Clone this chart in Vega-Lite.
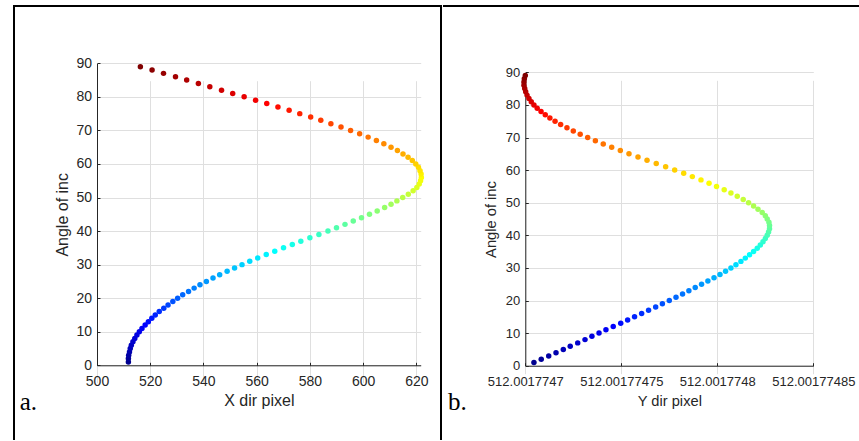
{
  "$schema": "https://vega.github.io/schema/vega-lite/v6.json",
  "padding": {"left": 13, "top": 5, "right": 0, "bottom": 0},
  "spacing": 0,
  "datasets": {
    "d": [
      {"angle": 1, "x": 511.8, "y": 512.0017747045},
      {"angle": 2, "x": 511.8, "y": 512.0017747083},
      {"angle": 3, "x": 511.9, "y": 512.0017747122},
      {"angle": 4, "x": 512.2, "y": 512.001774716},
      {"angle": 5, "x": 512.5, "y": 512.0017747198},
      {"angle": 6, "x": 512.9, "y": 512.0017747234},
      {"angle": 7, "x": 513.5, "y": 512.0017747273},
      {"angle": 8, "x": 514.2, "y": 512.0017747311},
      {"angle": 9, "x": 515.0, "y": 512.0017747347},
      {"angle": 10, "x": 515.9, "y": 512.0017747384},
      {"angle": 11, "x": 516.9, "y": 512.001774742},
      {"angle": 12, "x": 518.1, "y": 512.0017747458},
      {"angle": 13, "x": 519.3, "y": 512.0017747497},
      {"angle": 14, "x": 520.6, "y": 512.0017747533},
      {"angle": 15, "x": 521.9, "y": 512.0017747569},
      {"angle": 16, "x": 523.4, "y": 512.0017747606},
      {"angle": 17, "x": 525.1, "y": 512.0017747642},
      {"angle": 18, "x": 526.7, "y": 512.0017747679},
      {"angle": 19, "x": 528.5, "y": 512.0017747714},
      {"angle": 20, "x": 530.3, "y": 512.001774775},
      {"angle": 21, "x": 532.2, "y": 512.0017747785},
      {"angle": 22, "x": 534.4, "y": 512.0017747819},
      {"angle": 23, "x": 536.5, "y": 512.0017747852},
      {"angle": 24, "x": 538.7, "y": 512.0017747885},
      {"angle": 25, "x": 541.1, "y": 512.0017747918},
      {"angle": 26, "x": 543.6, "y": 512.0017747951},
      {"angle": 27, "x": 546.1, "y": 512.0017747983},
      {"angle": 28, "x": 548.9, "y": 512.0017748014},
      {"angle": 29, "x": 551.7, "y": 512.0017748043},
      {"angle": 30, "x": 554.5, "y": 512.0017748071},
      {"angle": 31, "x": 557.4, "y": 512.0017748097},
      {"angle": 32, "x": 560.4, "y": 512.0017748123},
      {"angle": 33, "x": 563.6, "y": 512.0017748146},
      {"angle": 34, "x": 566.8, "y": 512.0017748168},
      {"angle": 35, "x": 570.1, "y": 512.0017748189},
      {"angle": 36, "x": 573.4, "y": 512.0017748208},
      {"angle": 37, "x": 576.6, "y": 512.0017748224},
      {"angle": 38, "x": 580.0, "y": 512.0017748238},
      {"angle": 39, "x": 583.4, "y": 512.001774825},
      {"angle": 40, "x": 586.8, "y": 512.001774826},
      {"angle": 41, "x": 590.0, "y": 512.0017748267},
      {"angle": 42, "x": 593.2, "y": 512.0017748272},
      {"angle": 43, "x": 596.3, "y": 512.0017748272},
      {"angle": 44, "x": 599.4, "y": 512.0017748269},
      {"angle": 45, "x": 602.4, "y": 512.001774826},
      {"angle": 46, "x": 605.3, "y": 512.001774825},
      {"angle": 47, "x": 608.1, "y": 512.0017748234},
      {"angle": 48, "x": 610.5, "y": 512.0017748212},
      {"angle": 49, "x": 612.7, "y": 512.0017748189},
      {"angle": 50, "x": 614.9, "y": 512.0017748163},
      {"angle": 51, "x": 617.0, "y": 512.0017748135},
      {"angle": 52, "x": 618.8, "y": 512.0017748104},
      {"angle": 53, "x": 620.2, "y": 512.0017748071},
      {"angle": 54, "x": 621.1, "y": 512.0017748036},
      {"angle": 55, "x": 621.6, "y": 512.0017747996},
      {"angle": 56, "x": 621.9, "y": 512.0017747957},
      {"angle": 57, "x": 621.8, "y": 512.0017747915},
      {"angle": 58, "x": 621.4, "y": 512.001774787},
      {"angle": 59, "x": 620.8, "y": 512.0017747825},
      {"angle": 60, "x": 619.8, "y": 512.0017747778},
      {"angle": 61, "x": 618.5, "y": 512.0017747731},
      {"angle": 62, "x": 616.9, "y": 512.0017747682},
      {"angle": 63, "x": 615.0, "y": 512.0017747634},
      {"angle": 64, "x": 612.9, "y": 512.0017747587},
      {"angle": 65, "x": 610.5, "y": 512.001774754},
      {"angle": 66, "x": 607.8, "y": 512.0017747495},
      {"angle": 67, "x": 605.0, "y": 512.001774745},
      {"angle": 68, "x": 601.9, "y": 512.0017747406},
      {"angle": 69, "x": 598.7, "y": 512.0017747365},
      {"angle": 70, "x": 595.3, "y": 512.0017747325},
      {"angle": 71, "x": 591.7, "y": 512.0017747286},
      {"angle": 72, "x": 587.9, "y": 512.001774725},
      {"angle": 73, "x": 584.1, "y": 512.0017747217},
      {"angle": 74, "x": 580.3, "y": 512.0017747184},
      {"angle": 75, "x": 576.2, "y": 512.0017747155},
      {"angle": 76, "x": 572.2, "y": 512.0017747128},
      {"angle": 77, "x": 568.0, "y": 512.0017747104},
      {"angle": 78, "x": 563.8, "y": 512.0017747082},
      {"angle": 79, "x": 559.6, "y": 512.0017747062},
      {"angle": 80, "x": 555.3, "y": 512.0017747045},
      {"angle": 81, "x": 551.0, "y": 512.0017747031},
      {"angle": 82, "x": 546.8, "y": 512.0017747019},
      {"angle": 83, "x": 542.4, "y": 512.0017747009},
      {"angle": 84, "x": 538.1, "y": 512.0017747002},
      {"angle": 85, "x": 533.7, "y": 512.0017746997},
      {"angle": 86, "x": 529.5, "y": 512.0017746993},
      {"angle": 87, "x": 525.0, "y": 512.0017746993},
      {"angle": 88, "x": 520.7, "y": 512.0017746995},
      {"angle": 89, "x": 516.3, "y": 512.0017747}
    ]
  },
  "hconcat": [
    {
      "width": 427,
      "height": 434,
      "view": {"stroke": "#000000", "strokeWidth": 2, "strokeDash": [861, 427, 434]},
      "data": {"name": "d"},
      "mark": {"type": "circle", "size": 30, "opacity": 1, "clip": false},
      "title": {"text": "a.", "orient": "bottom", "anchor": "start", "frame": "group", "font": "Liberation Serif", "fontSize": 25, "fontWeight": "normal", "color": "#000000", "baseline": "alphabetic", "offset": -30, "dx": 5.7},
      "encoding": {
        "x": {
          "field": "x", "type": "quantitative",
          "scale": {"domain": [500, 621.65], "range": [83, 406.7], "nice": false, "zero": false},
          "axis": {"title": "X dir pixel", "values": [500, 520, 540, 560, 580, 600, 620], "offset": -74.7, "labelFontSize": 14, "titleFontSize": 16, "labelPadding": 12.4, "titlePadding": 4}
        },
        "y": {
          "field": "angle", "type": "quantitative",
          "scale": {"domain": [0, 90], "range": [359.3, 57.3], "nice": false, "zero": false},
          "axis": {"title": "Angle of inc", "values": [0, 10, 20, 30, 40, 50, 60, 70, 80, 90], "offset": -83, "labelFontSize": 14, "titleFontSize": 16, "labelPadding": 8.5, "titlePadding": 5}
        },
        "color": {
          "field": "angle", "type": "quantitative", "legend": null,
          "scale": {"domain": [1, 12, 34, 56, 78, 89], "range": ["#00008f", "#0000ff", "#00ffff", "#ffff00", "#ff0000", "#800000"], "interpolate": "rgb"}
        }
      }
    },
    {
      "width": 417,
      "height": 434,
      "view": {"stroke": "#000000", "strokeWidth": 2, "strokeDash": [417, 1300]},
      "data": {"name": "d"},
      "mark": {"type": "circle", "size": 30, "opacity": 1, "clip": false},
      "title": {"text": "b.", "orient": "bottom", "anchor": "start", "frame": "group", "font": "Liberation Serif", "fontSize": 25, "fontWeight": "normal", "color": "#000000", "baseline": "alphabetic", "offset": -30, "dx": 5},
      "encoding": {
        "x": {
          "field": "y", "type": "quantitative",
          "scale": {"domain": [512.0017747, 512.00177485], "range": [82.3, 370.3], "nice": false, "zero": false},
          "axis": {"title": "Y dir pixel", "values": [512.0017747, 512.00177475, 512.0017748, 512.00177485], "format": ".11~r", "offset": -74.3, "labelFontSize": 13, "titleFontSize": 14.7, "labelPadding": 12.3, "titlePadding": 5}
        },
        "y": {
          "field": "angle", "type": "quantitative",
          "scale": {"domain": [0, 90], "range": [359.7, 66.3], "nice": false, "zero": false},
          "axis": {"title": "Angle of inc", "values": [0, 10, 20, 30, 40, 50, 60, 70, 80, 90], "offset": -82.3, "labelFontSize": 13, "titleFontSize": 14.7, "labelPadding": 8.5, "titlePadding": 6.5}
        },
        "color": {
          "field": "angle", "type": "quantitative", "legend": null,
          "scale": {"domain": [1, 12, 34, 56, 78, 89], "range": ["#00008f", "#0000ff", "#00ffff", "#ffff00", "#ff0000", "#800000"], "interpolate": "rgb"}
        }
      }
    }
  ],
  "config": {
    "axis": {
      "domainColor": "#262626", "domainWidth": 1,
      "tickColor": "#262626", "tickSize": -3, "tickWidth": 1,
      "labelFont": "Liberation Sans", "labelColor": "#262626",
      "titleFont": "Liberation Sans", "titleFontWeight": "normal", "titleColor": "#262626",
      "gridColor": "#dfdfdf", "gridWidth": 1, "grid": true,
      "labelFlush": false, "labelOverlap": false, "labelBound": false
    }
  }
}
